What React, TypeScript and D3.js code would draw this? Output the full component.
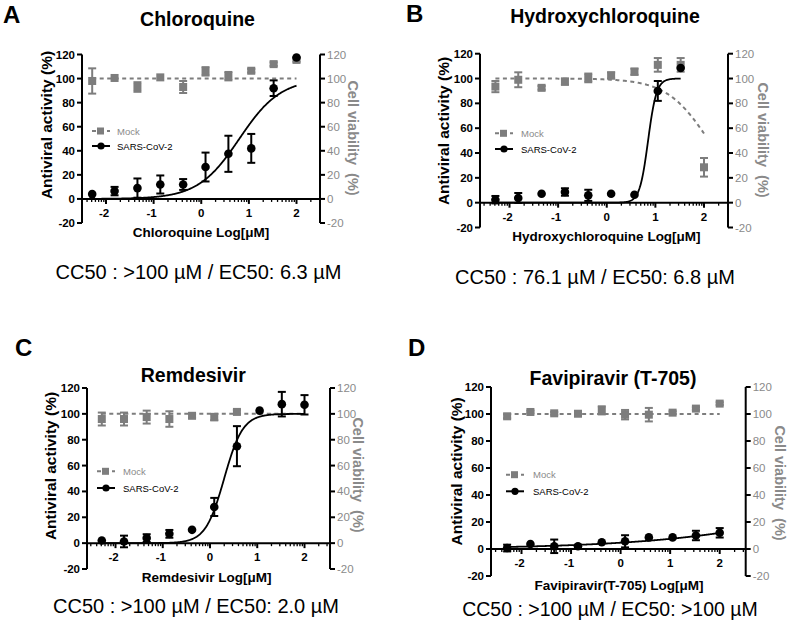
import React from "react";
import * as d3 from "d3";

// ---------- data ----------
const logDose = [-2.29, -1.82, -1.34, -0.86, -0.38, 0.09, 0.57, 1.05, 1.52, 2.0];
const yTicks = [-20, 0, 20, 40, 60, 80, 100, 120];
const xTicks = [-2, -1, 0, 1, 2];

const panelLetters = ["A", "B", "C", "D"];
const drugTitles = ["Chloroquine", "Hydroxychloroquine", "Remdesivir", "Favipiravir (T-705)"];
const xTitles = ["Chloroquine Log[\u03bcM]", "Hydroxychloroquine Log[\u03bcM]", "Remdesivir Log[\u03bcM]", "Favipiravir(T-705) Log[\u03bcM]"];
const captions = [
  "CC50 : >100 \u00b5M / EC50: 6.3 \u00b5M",
  "CC50 : 76.1 \u00b5M / EC50: 6.8 \u00b5M",
  "CC50 : >100 \u00b5M / EC50: 2.0 \u00b5M",
  "CC50 : >100 \u00b5M / EC50: >100 \u00b5M",
];
const legendLabels = ["Mock", "SARS-CoV-2"];

// Mock (cell viability) means and error half-widths
const mockA = [98, 100.5, 93, 101, 93, 106, 102, 106.5, 112, 115.5];
const mockErrA = [10.5, 0, 4, 0, 5, 3.5, 3.5, 1.5, 1.5, 1.5];
const mockB = [93.5, 99, 92.5, 97.5, 100.5, 102.5, 105.5, 111, 111, 28.5];
const mockErrB = [4.5, 6, 1.5, 2.5, 3.5, 2.5, 2.5, 5.5, 5.5, 7.5];
const mockC = [96, 96, 97.5, 96, 98.5, 97.5, 101.5, null, null, null];
const mockErrC = [5, 5, 5, 6, 1.5, 2.5, 1.5, 0, 0, 0];
const mockD = [98.3, 101.5, 100.5, 100.2, 102.7, 99.5, 99.5, 101, 104, 107.7];
const mockErrD = [1.5, 1, 1, 1, 3, 3.5, 5, 1, 1, 1];

// SARS-CoV-2 (antiviral activity) means and error half-widths
const sarsA = [4, 6.5, 9, 12, 12, 26.5, 37.5, 42, 92, 117.5];
const sarsErrA = [0, 3.5, 8, 7.5, 4.5, 12, 15, 12, 6.5, 0];
const sarsB = [2.4, 3.8, 7.2, 8.6, 5.9, 7.2, 6.4, 90, 108.5, null];
const sarsErrB = [3, 4, 0, 3, 4.5, 0, 0, 8, 0, 0];
const sarsC = [2, 1.3, 3.9, 7.2, 10.3, 28, 75, 102.5, 107.5, 107];
const sarsErrC = [0, 4.5, 3, 3, 0, 7, 15.5, 0, 9.5, 7.5];
const sarsD = [0.7, 3.7, 2, 2, 5, 5.7, 8.6, 8.6, 10, 12];
const sarsErrD = [2.5, 0, 5, 0, 0, 4.5, 0, 0, 3.5, 3.5];

// fitted curve parameters: [bottom, top, logEC50, hill, xStart, xEnd]
const fitSarsA = [0, 100, 0.8, 1, -2.29, 2.0];
const fitSarsB = [0, 100, 0.85, 5, -2.29, 1.52];
const fitSarsC = [0, 100, 0.3, 2.2, -2.29, 2.0];
const fitSarsD = [0, 100, 5.93, 0.221, -2.29, 2.0];
const fitMockA = [100, 100, 0, 1, -2.29, 2.0];
const fitMockB = [0, 100, 2.1, -1, -2.29, 2.0];
const fitMockC = [100, 100, 0, 1, -2.29, 2.0];
const fitMockD = [100, 100, 0, 1, -2.29, 2.0];

const mockVals = [mockA, mockB, mockC, mockD];
const mockErrs = [mockErrA, mockErrB, mockErrC, mockErrD];
const sarsVals = [sarsA, sarsB, sarsC, sarsD];
const sarsErrs = [sarsErrA, sarsErrB, sarsErrC, sarsErrD];
const sarsFits = [fitSarsA, fitSarsB, fitSarsC, fitSarsD];
const mockFits = [fitMockA, fitMockB, fitMockC, fitMockD];

// ---------- layout ----------
type Layout = {
  xm2: number; xp2: number; axL: number; axR: number; yTop: number; yBot: number;
  letter: [number, number]; title: [number, number]; xTitle: [number, number];
  caption: [number, number]; lTitle: [number, number]; rTitle: [number, number];
  legend: [number, number, number, number]; // lineX0, mockY, sarsY, textX
};

const layouts: Layout[] = [
  { xm2: 106, xp2: 296.5, axL: 82, axR: 320, yTop: 54.5, yBot: 223,
    letter: [3, 23], title: [197.5, 25.5], xTitle: [201, 237], caption: [198.5, 279],
    lTitle: [46, 125], rTitle: [353, 138], legend: [92, 131, 146, 117] },
  { xm2: 509.5, xp2: 704, axL: 480, axR: 728, yTop: 53.7, yBot: 227.5,
    letter: [406, 22], title: [605, 23], xTitle: [606.5, 241], caption: [595, 284],
    lTitle: [443, 131], rTitle: [763, 140], legend: [495, 133.3, 149, 521] },
  { xm2: 115.5, xp2: 304.5, axL: 87, axR: 330, yTop: 388, yBot: 569,
    letter: [15, 356], title: [193.3, 381.5], xTitle: [206.7, 582], caption: [196, 613],
    lTitle: [50, 466], rTitle: [358, 475], legend: [97, 471.3, 488, 123] },
  { xm2: 521.5, xp2: 719.7, axL: 491, axR: 745.7, yTop: 387, yBot: 576,
    letter: [408, 356], title: [613, 384.7], xTitle: [619, 590], caption: [610, 615.5],
    lTitle: [456.3, 471.3], rTitle: [779.7, 483], legend: [506, 474.7, 491.3, 533] },
];

const FONT = "'Liberation Sans', Arial, sans-serif";
const GRAY = "#7d7d7d";
const GRAY_TXT = "#8a8a8a";

function fourPL(p: number[], x: number) {
  const [bottom, top, c, h] = p;
  return bottom + (top - bottom) / (1 + Math.pow(10, (c - x) * h));
}

function ErrorBar({ x, y0, y1, color }: { x: number; y0: number; y1: number; color: string }) {
  const w = 4;
  return (
    <g stroke={color} strokeWidth={2}>
      <line x1={x} x2={x} y1={y0} y2={y1} />
      <line x1={x - w} x2={x + w} y1={y0} y2={y0} />
      <line x1={x - w} x2={x + w} y1={y1} y2={y1} />
    </g>
  );
}

function Panel({ i }: { i: number }) {
  const L = layouts[i];
  const x = d3.scaleLinear().domain([-2, 2]).range([L.xm2, L.xp2]);
  const y = d3.scaleLinear().domain([-20, 120]).range([L.yBot, L.yTop]);
  const y0 = y(0);

  const minor: number[] = [];
  for (let n = -3; n <= 2; n++) {
    for (let k = 2; k <= 9; k++) {
      const v = n + Math.log10(k);
      if (x(v) > L.axL + 2 && x(v) < L.axR - 2) minor.push(v);
    }
  }

  const curve = (p: number[]) => {
    const pts = d3.range(p[4], p[5] + 1e-9, 0.01).map((v) => [v, fourPL(p, v)] as [number, number]);
    return d3.line<[number, number]>().x((d) => x(d[0])).y((d) => y(d[1]))(pts) || "";
  };

  const mv = mockVals[i], me = mockErrs[i], sv = sarsVals[i], se = sarsErrs[i];
  const [lx, my, sy, tx] = L.legend;

  return (
    <g fontFamily={FONT}>
      {/* panel letter */}
      <text x={L.letter[0]} y={L.letter[1]} fontSize={24} fontWeight="bold">{panelLetters[i]}</text>
      {/* title */}
      <text x={L.title[0]} y={L.title[1]} fontSize={19.5} fontWeight="bold" textAnchor="middle">{drugTitles[i]}</text>

      {/* left axis */}
      <line x1={L.axL} x2={L.axL} y1={y(120)} y2={y(-20)} stroke="#000" strokeWidth={2} />
      {yTicks.map((t) => (
        <g key={"l" + t}>
          <line x1={L.axL - 5} x2={L.axL} y1={y(t)} y2={y(t)} stroke="#000" strokeWidth={2} />
          <text x={L.axL - 7} y={y(t) + 4} fontSize={11.5} fontWeight="bold" textAnchor="end">{t}</text>
        </g>
      ))}
      {/* right axis */}
      <line x1={L.axR} x2={L.axR} y1={y(120)} y2={y(-20)} stroke="#000" strokeWidth={2} />
      {yTicks.map((t) => (
        <g key={"r" + t}>
          <line x1={L.axR} x2={L.axR + 5} y1={y(t)} y2={y(t)} stroke="#000" strokeWidth={2} />
          <text x={L.axR + 7} y={y(t) + 4} fontSize={11.5} fill={GRAY_TXT} textAnchor="start">{t}</text>
        </g>
      ))}
      {/* x axis at y=0 */}
      <line x1={L.axL} x2={L.axR} y1={y0} y2={y0} stroke="#000" strokeWidth={2} />
      {minor.map((v, k) => (
        <line key={"m" + k} x1={x(v)} x2={x(v)} y1={y0} y2={y0 + 3} stroke="#000" strokeWidth={1.3} />
      ))}
      {xTicks.map((t) => (
        <g key={"x" + t}>
          <line x1={x(t)} x2={x(t)} y1={y0} y2={y0 + 5} stroke="#000" strokeWidth={2} />
          <text x={x(t) - (t < 0 ? 2 : 0)} y={y0 + 18} fontSize={11.5} fontWeight="bold" textAnchor="middle">{t}</text>
        </g>
      ))}

      {/* axis titles */}
      <text x={L.xTitle[0]} y={L.xTitle[1]} fontSize={13.5} fontWeight="bold" textAnchor="middle">{xTitles[i]}</text>
      <text transform={`translate(${L.lTitle[0]},${L.lTitle[1]}) rotate(-90)`} fontSize={15.5} fontWeight="bold" textAnchor="middle" dominantBaseline="central">Antiviral activity (%)</text>
      <text transform={`translate(${L.rTitle[0]},${L.rTitle[1]}) rotate(90)`} fontSize={14.5} fontWeight="bold" fill={GRAY_TXT} textAnchor="middle" dominantBaseline="central" style={{ whiteSpace: "pre" }}>{"Cell viability  (%)"}</text>

      {/* mock fit (dashed) */}
      <path d={curve(mockFits[i])} fill="none" stroke={GRAY} strokeWidth={2} strokeDasharray="4,3.5" />
      {/* mock points */}
      {mv.map((v, k) => v == null ? null : (
        <g key={"mp" + k}>
          {me[k] > 0 && <ErrorBar x={x(logDose[k])} y0={y(v + me[k])} y1={y(v - me[k])} color={GRAY} />}
          <rect x={x(logDose[k]) - 4} y={y(v) - 4} width={8} height={8} fill={GRAY} />
        </g>
      ))}
      {/* SARS fit */}
      <path d={curve(sarsFits[i])} fill="none" stroke="#000" strokeWidth={1.8} />
      {/* SARS points */}
      {sv.map((v, k) => v == null ? null : (
        <g key={"sp" + k}>
          {se[k] > 0 && <ErrorBar x={x(logDose[k])} y0={y(v + se[k])} y1={y(v - se[k])} color="#000" />}
          <circle cx={x(logDose[k])} cy={y(v)} r={4.3} fill="#000" />
        </g>
      ))}

      {/* legend */}
      <line x1={lx} x2={lx + 18} y1={my} y2={my} stroke={GRAY} strokeWidth={2} strokeDasharray="4,3.5" />
      <rect x={lx + 5} y={my - 3.5} width={7} height={7} fill={GRAY} />
      <text x={tx} y={my + 3.5} fontSize={9.5} fill={GRAY_TXT}>{legendLabels[0]}</text>
      <line x1={lx} x2={lx + 18} y1={sy} y2={sy} stroke="#000" strokeWidth={2} />
      <circle cx={lx + 9} cy={sy} r={3.6} fill="#000" />
      <text x={tx} y={sy + 3.5} fontSize={9.5}>{legendLabels[1]}</text>

      {/* caption */}
      <text x={L.caption[0]} y={L.caption[1]} fontSize={i === 3 ? 19.5 : 20} textAnchor="middle">{captions[i]}</text>
    </g>
  );
}

export default function App() {
  return (
    <svg width={787} height={627} viewBox="0 0 787 627" style={{ position: "absolute", left: 0, top: 0, background: "#fff" }}>
      <rect width={787} height={627} fill="#fff" />
      {[0, 1, 2, 3].map((i) => <Panel key={i} i={i} />)}
    </svg>
  );
}
